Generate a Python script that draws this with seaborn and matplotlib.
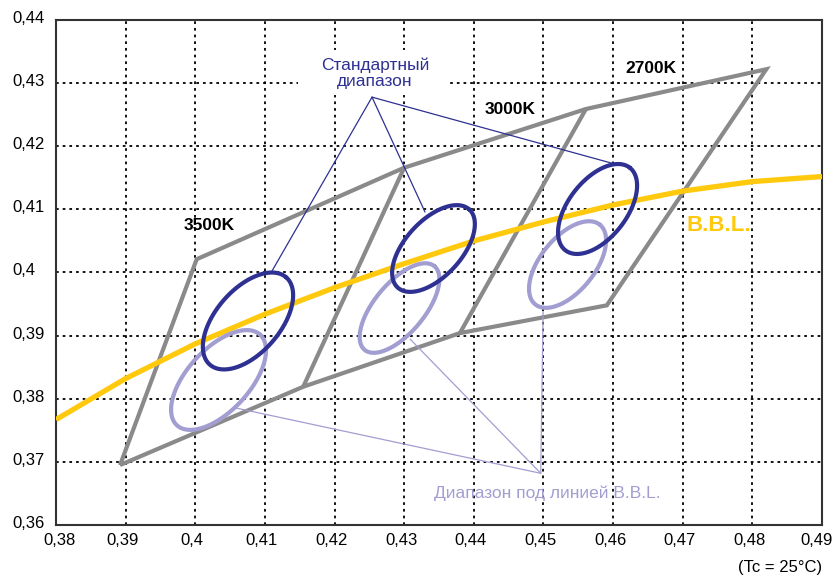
import numpy as np
import pandas as pd
import matplotlib
matplotlib.use("Agg")
import matplotlib.pyplot as plt
import matplotlib.transforms as mtrans
from matplotlib.patches import Rectangle
from matplotlib.ticker import FixedLocator, FuncFormatter
import seaborn as sns

# ---------------- data ----------------
# Black body locus (B.B.L.)
bbl_x = [0.38, 0.39, 0.40, 0.41, 0.42, 0.43, 0.44, 0.45, 0.46, 0.47, 0.48, 0.49]
bbl_y = [0.3767, 0.3832, 0.3887, 0.3934, 0.3976, 0.4014, 0.4050, 0.4080, 0.4107, 0.4129, 0.4144, 0.4152]

# Outer quadrangle of the CCT bins (closed)
outer_x = [0.3892, 0.4002, 0.4300, 0.4561, 0.4820, 0.4591, 0.4380, 0.4155, 0.3892]
outer_y = [0.3695, 0.4021, 0.4166, 0.4259, 0.4322, 0.3948, 0.3904, 0.3819, 0.3695]
# Dividers between bins
div1_x = [0.4155, 0.4300]
div1_y = [0.3819, 0.4166]
div2_x = [0.4380, 0.4561]
div2_y = [0.3904, 0.4259]

# Ellipse centres (data)
std_cx = [0.40757, 0.43421, 0.45777]
std_cy = [0.39232, 0.40380, 0.41006]
low_cx = [0.40334, 0.42933, 0.45346]
low_cy = [0.38297, 0.39437, 0.40126]

# Leader lines
std_apex = (0.42538, 0.42778)
std_end_x = [0.41102, 0.43299, 0.46000]
std_end_y = [0.40024, 0.40958, 0.41726]
low_apex = (0.44961, 0.36819)
low_end_x = [0.40585, 0.43084, 0.44995]
low_end_y = [0.37853, 0.38946, 0.39374]

x_ticks = [0.38, 0.39, 0.40, 0.41, 0.42, 0.43, 0.44, 0.45, 0.46, 0.47, 0.48, 0.49]
y_ticks = [0.36, 0.37, 0.38, 0.39, 0.40, 0.41, 0.42, 0.43, 0.44]

# ---------------- style ----------------
GRAY = "#8a8a8a"
DARK = "#2e3192"
LIGHT = "#a29ed1"
YELLOW = "#ffc90e"

# ellipse shapes (semi-axes in pixels, angle in degrees on screen)
std_shape = [(58, 32, 48.8), (53, 28, 47.4), (52.4, 29, 52.0)]
low_shape = [(61.5, 31, 47.4), (54.5, 25, 50.1), (51.3, 27, 50.9)]
# horizontal nudges of x tick labels (pixels)
x_label_shift = [4, -3, -3, -3, -3, -3, -3, -3, -3, -3, -3, -5]

sns.set_theme(style="white")
plt.rcParams["font.family"] = ["Liberation Sans", "DejaVu Sans"]

W, H = 836, 576
fig = plt.figure(figsize=(W / 100, H / 100), dpi=100)
L, R, T, B = 56, 822, 20, 525
ax = fig.add_axes([L / W, (H - B) / H, (R - L) / W, (B - T) / H])
xmin, xmax, ymin, ymax = 0.38, 0.49, 0.36, 0.44
ax.set_xlim(xmin, xmax)
ax.set_ylim(ymin, ymax)
sx = (R - L) / (xmax - xmin)
sy = (B - T) / (ymax - ymin)

# grid
ax.set_axisbelow(True)
ax.xaxis.set_major_locator(FixedLocator(x_ticks))
ax.yaxis.set_major_locator(FixedLocator(y_ticks))
ax.grid(True, color="black", linestyle=(0, (1.5, 2.2)), linewidth=1.3)

fmt = FuncFormatter(lambda v, p: ("%.2f" % v).rstrip("0").replace(".", ","))
ax.xaxis.set_major_formatter(fmt)
ax.yaxis.set_major_formatter(fmt)

for s in ax.spines.values():
    s.set_color("#333333")
    s.set_linewidth(1.5)

ax.tick_params(axis="x", direction="in", length=4, width=1.2, color="#333333",
               labelsize=12, pad=6, labelcolor="black")
ax.tick_params(axis="y", direction="in", length=4, width=1.2, color="#333333",
               labelsize=12, pad=31.5, labelcolor="black")

# white mask behind the "standard range" label
ax.add_patch(Rectangle((0.41475, 0.42811), 0.43658 - 0.41475, 0.43524 - 0.42811,
                       facecolor="white", edgecolor="none", zorder=1.2))

# B.B.L.
sns.lineplot(x=bbl_x, y=bbl_y, ax=ax, color=YELLOW, linewidth=3.8, sort=False,
             estimator=None, zorder=3)

# bins
sns.lineplot(x=outer_x, y=outer_y, ax=ax, color=GRAY, linewidth=3.0, sort=False,
             estimator=None, zorder=2)
for lx, ly in [(div1_x, div1_y), (div2_x, div2_y)]:
    sns.lineplot(x=lx, y=ly, ax=ax, color=GRAY, linewidth=3.0, sort=False,
                 estimator=None, zorder=2)
for ln in ax.lines:
    ln.set_solid_joinstyle("miter")
    ln.set_solid_capstyle("butt")

# ellipses
t = np.linspace(0, 2 * np.pi, 240)
def ell(cx, cy, a, b, ang):
    th = np.deg2rad(ang)
    dx = a * np.cos(t) * np.cos(th) - b * np.sin(t) * np.sin(th)
    dy = a * np.cos(t) * np.sin(th) + b * np.sin(t) * np.cos(th)
    return cx + dx / sx, cy + dy / sy

for cx, cy, (a, b, ang) in zip(low_cx, low_cy, low_shape):
    ex, ey = ell(cx, cy, a, b, ang)
    ax.plot(ex, ey, color=LIGHT, linewidth=3.0, zorder=4)
for cx, cy, (a, b, ang) in zip(std_cx, std_cy, std_shape):
    ex, ey = ell(cx, cy, a, b, ang)
    ax.plot(ex, ey, color=DARK, linewidth=3.0, zorder=5)

# leaders
for ex, ey in zip(std_end_x, std_end_y):
    ax.plot([std_apex[0], ex], [std_apex[1], ey], color=DARK, linewidth=0.9, zorder=6)
for ex, ey in zip(low_end_x, low_end_y):
    ax.plot([low_apex[0], ex], [low_apex[1], ey], color=LIGHT, linewidth=0.9, zorder=6)

# texts
ax.text(0.42581, 0.43160, "Стандартный\nдиапазон", color=DARK, fontsize=12.5,
        ha="center", va="center", linespacing=1.1, zorder=7)
ax.text(0.45058, 0.36507, "Диапазон под линией B.B.L.", color=LIGHT, fontsize=12.5,
        ha="center", va="center", zorder=7)
for tx, ty, s in [(0.40197, 0.40752, "3500K"), (0.44520, 0.42590, "3000K"),
                  (0.46545, 0.43239, "2700K")]:
    ax.text(tx, ty, s, color="black", fontsize=12.5, fontweight="bold",
            ha="center", va="center", zorder=7)
ax.text(0.47521, 0.40752, "B.B.L.", color=YELLOW, fontsize=16, fontweight="bold",
        ha="center", va="center", zorder=7)
ax.text(1.0, -0.085, "(Tc = 25°C)", transform=ax.transAxes, fontsize=12,
        ha="right", va="center", color="black")

ax.set_xlabel("")
ax.set_ylabel("")
if ax.get_legend():
    ax.get_legend().remove()

# tick label fine placement
fig.canvas.draw()
for lab, dxp in zip(ax.get_xticklabels(), x_label_shift):
    lab.set_transform(lab.get_transform() + mtrans.ScaledTranslation(dxp / 100, 0, fig.dpi_scale_trans))
for lab in ax.get_yticklabels():
    lab.set_horizontalalignment("left")
    lab.set_transform(lab.get_transform() + mtrans.ScaledTranslation(0, 3 / 100, fig.dpi_scale_trans))

fig.savefig("out.png", dpi=100)
